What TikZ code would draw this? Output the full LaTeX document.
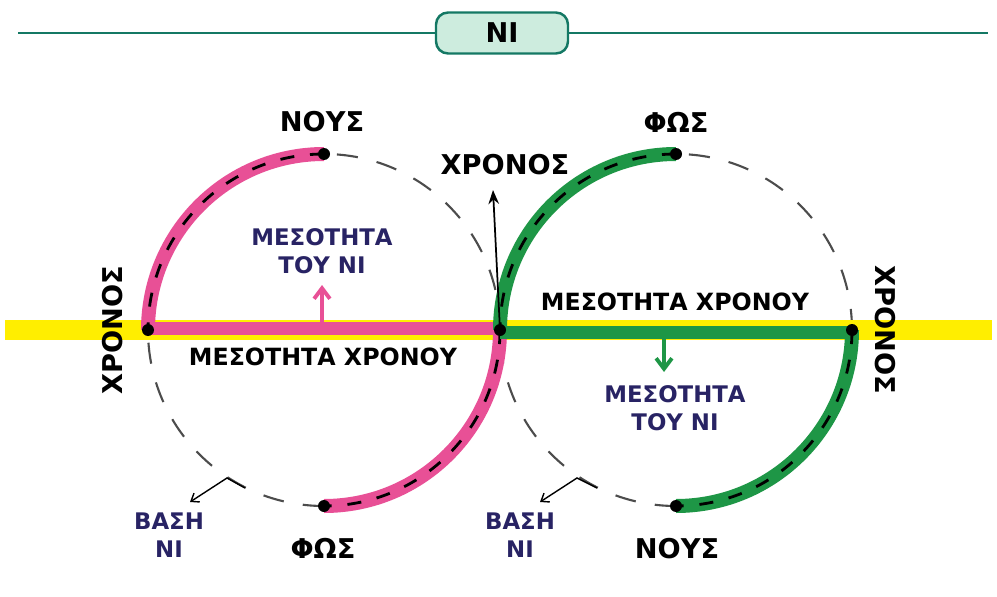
\documentclass[tikz,border=0pt]{standalone}
\usepackage{fontspec}
\setmainfont{DejaVu Sans}
\usetikzlibrary{arrows.meta}

\definecolor{nipink}{RGB}{232,80,150}
\definecolor{nigreen}{RGB}{30,150,70}
\definecolor{niyellow}{RGB}{255,238,0}
\definecolor{ninavy}{RGB}{40,35,100}
\definecolor{niteal}{RGB}{20,120,100}
\definecolor{nimint}{RGB}{205,236,222}

\tikzset{
  bigword/.style={font=\bfseries\fontsize{15.5}{18}\selectfont, inner sep=1pt},
  midword/.style={font=\bfseries\fontsize{13.5}{16}\selectfont, inner sep=1pt},
  blueword/.style={font=\bfseries\fontsize{13}{16}\selectfont, text=ninavy, align=center, inner sep=1pt},
  dashcircle/.style={draw=black!70, line width=1.2pt, dash pattern=on 12pt off 11pt},
  thickarc/.style={line width=0.28cm},
  arcdash/.style={draw=black, line width=1.6pt, dash pattern=on 8pt off 9pt},
  dot/.style={circle, fill=black, inner sep=0pt, minimum size=0.24cm},
}

\begin{document}
\begin{tikzpicture}[x=0.02cm, y=0.02cm]
    \useasboundingbox (0,0) rectangle (997,596);

    \coordinate (L) at (324,266);
    \coordinate (R) at (676,266);

    % title bar
    \node[draw=niteal, line width=1.4pt, fill=nimint, rounded corners=0.24cm,
          minimum width=2.64cm, minimum height=0.82cm, bigword] (title) at (502,563) {ΝΙ};
    \draw[niteal, line width=1.4pt] (18,563) to (title.west);
    \draw[niteal, line width=1.4pt] (title.east) to (988,563);

    % dashed circles and time band
    \draw[dashcircle] (L) circle[radius=176];
    \draw[dashcircle] (R) circle[radius=176];
    \fill[niyellow] (5,256) rectangle (992,276);

    % points on the circles
    \coordinate (A) at (148,266);
    \coordinate (M) at (500,266);
    \coordinate (B) at (852,266);
    \coordinate (LT) at (324,442);
    \coordinate (LB) at (324,90);
    \coordinate (RT) at (676,442);
    \coordinate (RB) at (676,90);

    % pink path
    \draw[nipink, line width=0.26cm] (148,268) to (500,268);
    \draw[nipink, thickarc] (LT) arc[start angle=90, end angle=180, radius=176];
    \draw[nipink, thickarc] (M) arc[start angle=0, end angle=-90, radius=176];
    \draw[arcdash] (LT) arc[start angle=90, end angle=180, radius=176];
    \draw[arcdash] (M) arc[start angle=0, end angle=-90, radius=176];

    % green path
    \draw[nigreen, line width=0.26cm] (500,264) to (852,264);
    \draw[nigreen, thickarc] (RT) arc[start angle=90, end angle=180, radius=176];
    \draw[nigreen, thickarc] (B) arc[start angle=0, end angle=-90, radius=176];
    \draw[arcdash] (RT) arc[start angle=90, end angle=180, radius=176];
    \draw[arcdash] (B) arc[start angle=0, end angle=-90, radius=176];

    \node[dot] (dA) at (A) {};
    \node[dot] (dM) at (M) {};
    \node[dot] (dB) at (B) {};
    \node[dot] (dLT) at (LT) {};
    \node[dot] (dLB) at (LB) {};
    \node[dot] (dRT) at (RT) {};
    \node[dot] (dRB) at (RB) {};

    % labels
    \node[bigword] (nousT) at (322,474) {ΝΟΥΣ};
    \node[bigword] (fosT) at (676,474) {ΦΩΣ};
    \node[bigword] (chronos) at (505,431) {ΧΡΟΝΟΣ};
    \node[bigword] (fosB) at (323,48) {ΦΩΣ};
    \node[bigword] (nousB) at (677,47) {ΝΟΥΣ};
    \node[bigword, rotate=90] (chronosL) at (113,266) {ΧΡΟΝΟΣ};
    \node[bigword, rotate=-90] (chronosR) at (885,266) {ΧΡΟΝΟΣ};

    \node[midword] (mesoL) at (323,239) {ΜΕΣΟΤΗΤΑ ΧΡΟΝΟΥ};
    \node[midword] (mesoR) at (675,294) {ΜΕΣΟΤΗΤΑ ΧΡΟΝΟΥ};

    \node[blueword] (niL) at (322,345) {ΜΕΣΟΤΗΤΑ\\ΤΟΥ ΝΙ};
    \node[blueword] (niR) at (675,188) {ΜΕΣΟΤΗΤΑ\\ΤΟΥ ΝΙ};
    \node[blueword] (baseL) at (169,61) {ΒΑΣΗ\\ΝΙ};
    \node[blueword] (baseR) at (520,61) {ΒΑΣΗ\\ΝΙ};

    % arrows
    \coordinate (chronostip) at (493,406);
    \draw[black, line width=1pt, -{Stealth[length=8pt, width=6pt]}] (dM) to (chronostip);

    \coordinate (pinkfoot) at (322,271);
    \coordinate (pinktip) at (322,311);
    \draw[nipink, line width=2.2pt, -{Straight Barb[length=6pt, width=9pt]}] (pinkfoot) to (pinktip);

    \coordinate (greenfoot) at (664,259);
    \coordinate (greentip) at (664,224);
    \draw[nigreen, line width=2.2pt, -{Straight Barb[length=6pt, width=9pt]}] (greenfoot) to (greentip);

    \coordinate (bendL0) at (245,108);
    \coordinate (bendL1) at (227,118);
    \coordinate (bendL2) at (190,94);
    \draw[black, line width=0.8pt, -{Straight Barb[length=4pt, width=6pt]}] (bendL0) to (bendL1) to (bendL2);

    \coordinate (bendR0) at (597,108);
    \coordinate (bendR1) at (577,118);
    \coordinate (bendR2) at (540,94);
    \draw[black, line width=0.8pt, -{Straight Barb[length=4pt, width=6pt]}] (bendR0) to (bendR1) to (bendR2);
\end{tikzpicture}
\end{document}
